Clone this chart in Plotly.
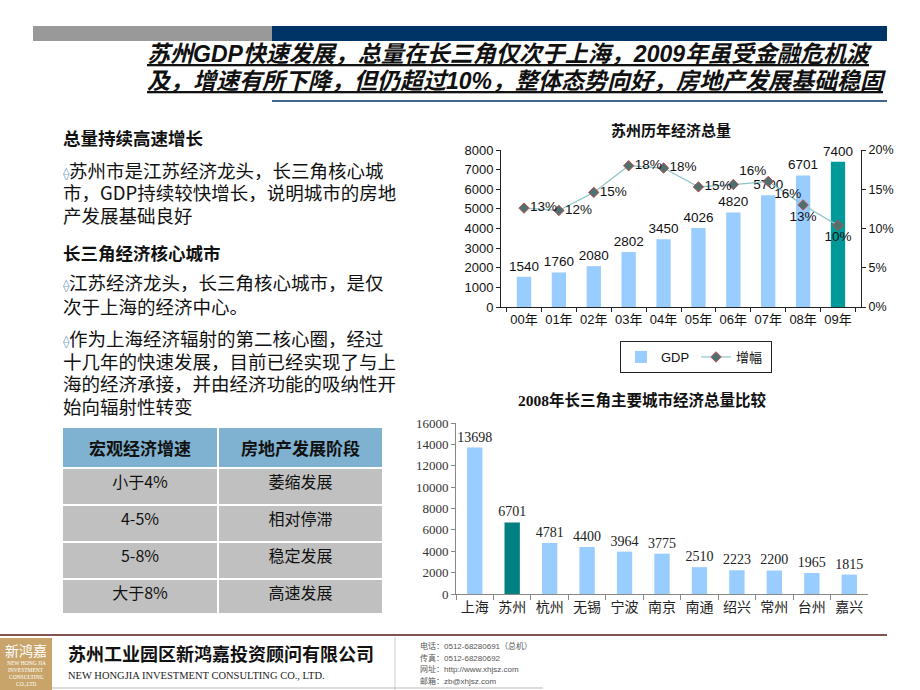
import plotly.graph_objects as go

W, H = 920, 690


def px(x):
    return x / W


def py(y):
    return 1 - y / H


# ---------------- data ----------------
years = ["00年", "01年", "02年", "03年", "04年", "05年", "06年", "07年", "08年", "09年"]
gdp = [1540, 1760, 2080, 2802, 3450, 4026, 4820, 5700, 6701, 7400]
growth = [12.6, 12.3, 14.6, 18.0, 17.7, 15.3, 15.6, 16.0, 13.0, 10.4]

cities = ["上海", "苏州", "杭州", "无锡", "宁波", "南京", "南通", "绍兴", "常州", "台州", "嘉兴"]
city_gdp = [13698, 6701, 4781, 4400, 3964, 3775, 2510, 2223, 2200, 1965, 1815]

table_header = ["宏观经济增速", "房地产发展阶段"]
table_rate = ["小于4%", "4-5%", "5-8%", "大于8%"]
table_stage = ["萎缩发展", "相对停滞", "稳定发展", "高速发展"]

# ---------------- styles ----------------
LIGHT = "#99CCFF"
TEAL1 = "#009999"
TEAL2 = "#008080"
NAVY = "#003366"
CJK = "Noto Sans CJK SC"
SANS = "Liberation Sans, Noto Sans CJK SC"
SERIF = "Liberation Serif, Noto Sans CJK SC"

gdp_colors = [TEAL1 if i == len(gdp) - 1 else LIGHT for i in range(len(gdp))]
city_colors = [TEAL2 if c == "苏州" else LIGHT for c in cities]
growth_textpos = ["middle right", "middle right", "middle right", "middle right", "middle right",
                  "middle right", "top right", "bottom right", "bottom center", "bottom center"]

fig = go.Figure()

# Chart 1: Suzhou GDP
fig.add_trace(go.Bar(
    x=years, y=gdp, name="GDP", marker=dict(color=gdp_colors, line=dict(width=0)),
    text=[str(v) for v in gdp], textposition="outside", cliponaxis=False, constraintext="none",
    textfont=dict(family=SANS, size=13.5, color="#111"),
    xaxis="x", yaxis="y", legendrank=1,
))
fig.add_trace(go.Scatter(
    x=years, y=growth, name="增幅", mode="lines+markers+text",
    line=dict(color="#8FC4C8", width=1.2),
    marker=dict(symbol="diamond", size=8, color="#4F7070", line=dict(color="#C05050", width=1)),
    texttemplate="%{y:.0f}%", textposition=growth_textpos, cliponaxis=False,
    textfont=dict(family=SANS, size=13.5, color="#111"),
    xaxis="x", yaxis="y2", legendrank=2,
))

# Chart 2: city comparison
fig.add_trace(go.Bar(
    x=cities, y=city_gdp, marker=dict(color=city_colors, line=dict(width=0)),
    text=[str(v) for v in city_gdp], textposition="outside", cliponaxis=False, constraintext="none",
    textfont=dict(family=SERIF, size=14, color="#222"),
    xaxis="x2", yaxis="y3", showlegend=False,
))

# Table
fig.add_trace(go.Table(
    domain=dict(x=[px(62), px(383)], y=[py(613), py(427)]),
    columnwidth=[156, 165],
    header=dict(values=["<b>%s</b>" % h for h in table_header], fill_color="#7FB2D0",
                line=dict(color="white", width=2), align="center", height=37,
                font=dict(family=CJK, size=17, color="#111")),
    cells=dict(values=[table_rate, table_stage], fill_color="#C0C0C0",
               line=dict(color="white", width=2), align="center", height=37,
               font=dict(family=CJK, size=16, color="#111")),
))

axis_common = dict(showgrid=False, zeroline=False, showline=True, ticks="outside", ticklen=4,
                   fixedrange=True, automargin=False)

fig.update_layout(
    width=W, height=H, autosize=False,
    margin=dict(l=0, r=0, t=0, b=0, pad=0, autoexpand=False),
    paper_bgcolor="white", plot_bgcolor="white",
    font=dict(family=SANS, color="#111"),
    bargap=0.59,
    hovermode=False,
    xaxis=dict(domain=[px(501), px(861)], anchor="y", linecolor="#222", tickcolor="#222",
               tickson="boundaries", tickangle=0, tickfont=dict(family=SANS, size=13),
               **axis_common),
    yaxis=dict(domain=[py(307), py(150)], anchor="x", range=[0, 8000], dtick=1000,
               linecolor="#222", tickcolor="#222", tickformat="d",
               tickfont=dict(family=SANS, size=13), **axis_common),
    yaxis2=dict(overlaying="y", side="right", anchor="x", range=[0, 20], dtick=5, ticksuffix="%",
                linecolor="#222", tickcolor="#222", tickfont=dict(family=SANS, size=12.5),
                **axis_common),
    xaxis2=dict(domain=[px(456), px(868)], anchor="y3", linecolor="#888", tickcolor="#888",
                tickson="boundaries", tickangle=0, tickfont=dict(family=CJK, size=14, color="#222"),
                showgrid=False, zeroline=False, showline=True, ticks="outside", ticklen=5,
                fixedrange=True, automargin=False),
    yaxis3=dict(domain=[py(594), py(423)], anchor="x2", range=[0, 16000], dtick=2000,
                tickformat="d", linecolor="#888", tickcolor="#888",
                tickfont=dict(family=SERIF, size=13, color="#333"), **axis_common),
    legend=dict(x=px(620), y=py(341), xanchor="left", yanchor="top", orientation="h",
                bordercolor="#222", borderwidth=1, font=dict(family=SANS, size=13),
                itemwidth=30, entrywidth=30, tracegroupgap=0, bgcolor="white"),
)

shapes = [
    dict(type="rect", xref="paper", yref="paper", x0=px(33), x1=px(272), y0=py(41), y1=py(26),
         fillcolor="#999999", line=dict(width=0)),
    dict(type="rect", xref="paper", yref="paper", x0=px(272), x1=px(887), y0=py(41), y1=py(26),
         fillcolor=NAVY, line=dict(width=0)),
    dict(type="line", xref="paper", yref="paper", x0=px(272), x1=px(887), y0=py(101), y1=py(101),
         line=dict(color=NAVY, width=1.5)),
    # footer
    dict(type="line", xref="paper", yref="paper", x0=0, x1=px(887), y0=py(635), y1=py(635),
         line=dict(color="#5A1A1A", width=1.5)),
    dict(type="rect", xref="paper", yref="paper", x0=0, x1=px(52), y0=py(690), y1=py(638),
         fillcolor="#C9A46A", line=dict(width=0)),
    dict(type="line", xref="paper", yref="paper", x0=px(395), x1=px(395), y0=py(690), y1=py(637),
         line=dict(color="#CCCCCC", width=1)),
    dict(type="line", xref="paper", yref="paper", x0=px(52), x1=px(543), y0=py(688), y1=py(688),
         line=dict(color="#BBBBBB", width=1)),
]

ann = []


def text(x, y, s, size, color="#111", family=CJK, anchor="left", h=None, **font_kw):
    a = dict(xref="paper", yref="paper", x=px(x), y=py(y), text=s, showarrow=False,
             xanchor=anchor, yanchor="middle", borderpad=0,
             font=dict(family=family, size=size, color=color, **font_kw))
    if h:
        a["height"] = h
        a["valign"] = "middle"
    ann.append(a)


title_font = dict(weight="bold", style="italic", lineposition="under")
text(146, 54, "苏州GDP快速发展，总量在长三角仅次于上海，2009年虽受金融危机波", 23,
     family=SANS, **title_font)
text(146, 81, "及，增速有所下降，但仍超过10%，整体态势向好，房地产发展基础稳固", 23,
     family=SANS, **title_font)

BUL = "<span style='color:#7FA7C9;font-size:13px'>⟠</span>"
BODY = 18.5
text(62, 137, "<b>总量持续高速增长</b>", 17.5, h=20)
text(62, 170, BUL + "苏州市是江苏经济龙头，长三角核心城", BODY, h=20)
text(62, 192, "市，GDP持续较快增长，说明城市的房地", BODY, h=20)
text(62, 215, "产发展基础良好", BODY, h=20)
text(62, 252, "<b>长三角经济核心城市</b>", 17.5, h=20)
text(62, 282, BUL + "江苏经济龙头，长三角核心城市，是仅", BODY, h=20)
text(62, 306, "次于上海的经济中心。", BODY, h=20)
text(62, 338, BUL + "作为上海经济辐射的第二核心圈，经过", BODY, h=20)
text(62, 361, "十几年的快速发展，目前已经实现了与上", BODY, h=20)
text(62, 383, "海的经济承接，并由经济功能的吸纳性开", BODY, h=20)
text(62, 406, "始向辐射性转变", BODY, h=20)

# chart titles
text(671, 129, "<b>苏州历年经济总量</b>", 15, anchor="center")
text(642, 400, "<b>2008年长三角主要城市经济总量比较</b>", 15.5, family=SERIF, anchor="center")

# footer
text(26, 650, "新鸿嘉", 14, color="white", anchor="center")
for i, s in enumerate(["NEW HONG JIA", "INVESTMENT", "CONSULTING", "CO.,LTD"]):
    text(26, 663 + i * 7, s, 5.5, color="white", family=SERIF, anchor="center", h=6)
text(67, 653, "<b>苏州工业园区新鸿嘉投资顾问有限公司</b>", 18)
text(67, 675, "NEW HONGJIA INVESTMENT CONSULTING CO., LTD.", 10.5, color="#222", family=SERIF)
for i, s in enumerate(["电话：0512-68280691（总机）", "传真：0512-68280692",
                       "网址：http://www.xhjsz.com", "邮箱：zb@xhjsz.com"]):
    text(419, 646 + i * 11.7, s, 8, color="#555", family=SANS, h=10)

fig.update_layout(shapes=shapes, annotations=ann)

fig.write_html("out.html", config={"displayModeBar": False},
               post_script="document.body.style.margin='0';document.body.style.padding='0';")
